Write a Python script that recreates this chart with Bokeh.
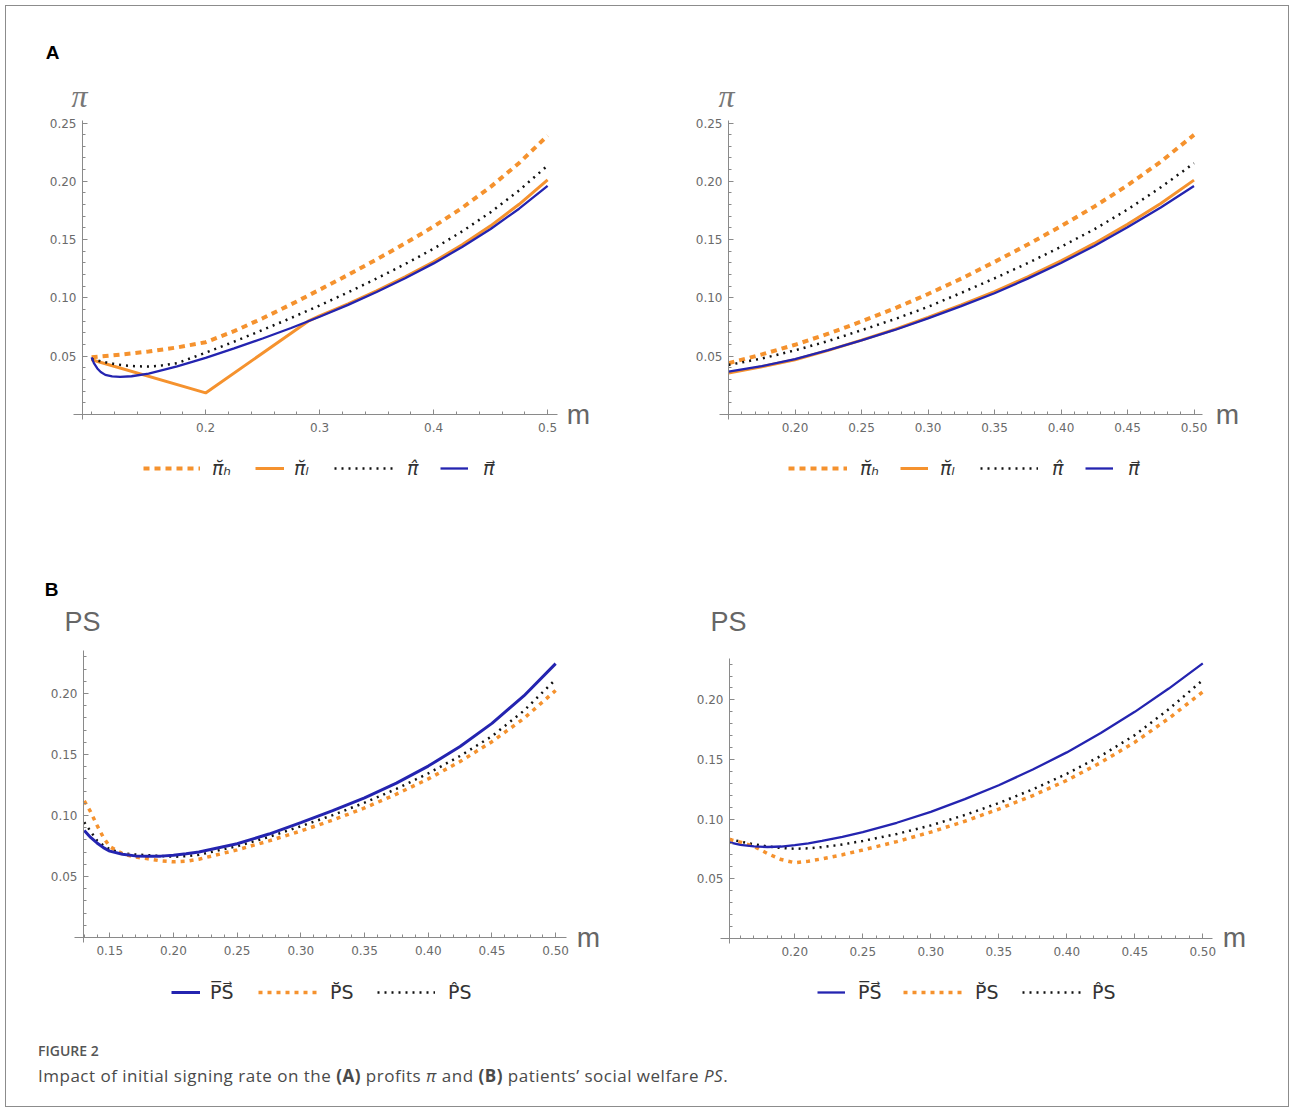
from bokeh.plotting import figure
from bokeh.models import Range1d, FixedTicker, PrintfTickFormatter, Label, Legend, LegendItem, Div
from bokeh.layouts import row, column
from bokeh.embed import file_html
from bokeh.resources import INLINE

# ---------------- DATA ----------------
# Panel A, left
tl_m_h = [0.10, 0.125, 0.15, 0.175, 0.20, 0.225, 0.25, 0.275, 0.30, 0.325, 0.35, 0.375, 0.40, 0.425, 0.45, 0.475, 0.50]
tl_pi_h = [0.049, 0.0513, 0.054, 0.0575, 0.062, 0.0715, 0.0825, 0.0945, 0.107, 0.1198, 0.133, 0.1468, 0.1612, 0.1772, 0.1952, 0.2157, 0.2392]
tl_m_l = [0.10, 0.20, 0.29, 0.30, 0.325, 0.35, 0.375, 0.40, 0.425, 0.45, 0.475, 0.50]
tl_pi_l = [0.047, 0.0185, 0.080, 0.0845, 0.0948, 0.106, 0.118, 0.131, 0.1455, 0.1618, 0.1803, 0.2013]
tl_m_hat = [0.10, 0.11, 0.12, 0.13, 0.14, 0.15, 0.16, 0.175, 0.20, 0.225, 0.25, 0.275, 0.30, 0.325, 0.35, 0.375, 0.40, 0.425, 0.45, 0.475, 0.50]
tl_pi_hat = [0.0475, 0.0452, 0.0433, 0.042, 0.0413, 0.0412, 0.0418, 0.044, 0.053, 0.0625, 0.0725, 0.0828, 0.0935, 0.1048, 0.1166, 0.129, 0.1422, 0.157, 0.1735, 0.1922, 0.2135]
tl_m_vec = [0.10, 0.102, 0.105, 0.108, 0.112, 0.118, 0.125, 0.135, 0.15, 0.175, 0.20, 0.225, 0.25, 0.275, 0.30, 0.325, 0.35, 0.375, 0.40, 0.425, 0.45, 0.475, 0.50]
tl_pi_vec = [0.049, 0.044, 0.0395, 0.0365, 0.034, 0.0327, 0.0323, 0.0328, 0.035, 0.0412, 0.0485, 0.0567, 0.0652, 0.0742, 0.0838, 0.094, 0.105, 0.1168, 0.1296, 0.1436, 0.1591, 0.1765, 0.196]

# Panel A, right
tr_m = [0.15, 0.175, 0.20, 0.225, 0.25, 0.275, 0.30, 0.325, 0.35, 0.375, 0.40, 0.425, 0.45, 0.475, 0.50]
tr_pi_h = [0.044, 0.0515, 0.0598, 0.0693, 0.0798, 0.091, 0.1033, 0.1165, 0.1308, 0.1458, 0.1615, 0.1783, 0.1965, 0.2168, 0.2398]
tr_pi_l = [0.0355, 0.041, 0.047, 0.055, 0.0638, 0.073, 0.0832, 0.094, 0.1053, 0.118, 0.1317, 0.1467, 0.1632, 0.181, 0.201]
tr_pi_hat = [0.0425, 0.048, 0.055, 0.063, 0.0723, 0.0818, 0.0923, 0.1043, 0.1168, 0.1298, 0.1438, 0.1588, 0.1758, 0.1948, 0.2155]
tr_pi_vec = [0.0367, 0.0415, 0.0475, 0.0552, 0.0635, 0.0725, 0.0825, 0.093, 0.104, 0.1165, 0.130, 0.1445, 0.1605, 0.1775, 0.196]

# Panel B, left
bl_m = [0.13, 0.135, 0.14, 0.145, 0.15, 0.16, 0.17, 0.18, 0.19, 0.20, 0.21, 0.22, 0.25, 0.275, 0.30, 0.325, 0.35, 0.375, 0.40, 0.425, 0.45, 0.475, 0.50]
bl_ps_vec = [0.0877, 0.082, 0.0775, 0.0737, 0.0708, 0.0682, 0.0669, 0.0665, 0.0667, 0.0674, 0.0686, 0.0701, 0.0768, 0.0848, 0.0942, 0.104, 0.1145, 0.1265, 0.1405, 0.1565, 0.1755, 0.198, 0.2245]
bl_ps_br = [0.112, 0.103, 0.092, 0.082, 0.0745, 0.0685, 0.066, 0.0645, 0.0628, 0.062, 0.0625, 0.0642, 0.0718, 0.0792, 0.0873, 0.0962, 0.1062, 0.1175, 0.130, 0.1442, 0.1605, 0.1795, 0.2025]
bl_ps_hat = [0.0945, 0.087, 0.0795, 0.0755, 0.0725, 0.069, 0.068, 0.0675, 0.0668, 0.0662, 0.0666, 0.0678, 0.0748, 0.0825, 0.0912, 0.1003, 0.1105, 0.1218, 0.1345, 0.1488, 0.165, 0.1858, 0.2115]

# Panel B, right
br_m = [0.152, 0.16, 0.17, 0.18, 0.19, 0.20, 0.21, 0.22, 0.235, 0.25, 0.275, 0.30, 0.325, 0.35, 0.375, 0.40, 0.425, 0.45, 0.475, 0.50]
br_ps_vec = [0.0805, 0.0785, 0.0772, 0.0767, 0.0771, 0.0782, 0.0798, 0.0818, 0.0852, 0.0892, 0.097, 0.1062, 0.1168, 0.1285, 0.1416, 0.156, 0.1722, 0.19, 0.2095, 0.2306]
br_ps_br = [0.083, 0.0808, 0.0772, 0.0712, 0.0662, 0.0635, 0.0648, 0.0668, 0.0702, 0.0742, 0.0812, 0.0892, 0.0983, 0.1085, 0.1198, 0.1325, 0.1475, 0.1645, 0.1845, 0.2067]
br_ps_hat = [0.0835, 0.0812, 0.079, 0.0772, 0.0758, 0.0752, 0.0756, 0.0766, 0.0788, 0.0818, 0.0876, 0.0948, 0.1035, 0.1135, 0.125, 0.138, 0.153, 0.1705, 0.1922, 0.2166]

# ticks
tl_xticks = [0.2, 0.3, 0.4, 0.5]
tl_xminor = [round(0.10 + 0.02 * i, 2) for i in range(21)]
a_yticks = [0.05, 0.10, 0.15, 0.20, 0.25]
a_yminor = [round(0.01 * i, 2) for i in range(1, 26)]
tr_xticks = [0.20, 0.25, 0.30, 0.35, 0.40, 0.45, 0.50]
tr_xminor = [round(0.01 * i, 2) for i in range(15, 51)]
bl_xticks = [0.15, 0.20, 0.25, 0.30, 0.35, 0.40, 0.45, 0.50]
bl_xminor = [round(0.01 * i, 2) for i in range(13, 51)]
br_xticks = [0.20, 0.25, 0.30, 0.35, 0.40, 0.45, 0.50]
br_xminor = [round(0.01 * i, 2) for i in range(16, 51)]
b_yticks = [0.05, 0.10, 0.15, 0.20]
b_yminor = [round(0.01 * i, 2) for i in range(1, 24)]

pi_labels = ["\u03c0\u0306\u2095", "\u03c0\u0306\u2097", "\u03c0\u0302", "\u03c0\u20d7"]
ps_labels = ["P\u0305S\u20d7", "P\u0306S", "P\u0302S"]

ORANGE = "#F5922E"
BLUE = "#2424B0"
BLACK = "#111111"
AXC = "#8a8a8a"
TXC = "#6a6a6a"


def panel(g, xticks, xminor, xfmt, yticks, yminor):
    # the frame covers the whole canvas; axes are placed at the data origin
    xr = Range1d(g["x0"] - (g["fl"] - g["ox"]) / g["kx"], g["x0"] + (g["ox"] + g["W"] - g["fl"]) / g["kx"])
    yr = Range1d(-(g["oy"] + g["H"] - g["fb"]) / g["ky"], (g["fb"] - g["oy"]) / g["ky"])
    p = figure(width=g["W"], height=g["H"], x_range=xr, y_range=yr,
               output_backend="svg", toolbar_location=None,
               min_border=0, min_border_left=0, min_border_right=0,
               min_border_top=0, min_border_bottom=0)
    p.xgrid.visible = False
    p.ygrid.visible = False
    p.outline_line_color = None
    p.border_fill_color = "white"
    p.background_fill_color = "white"
    p.xaxis.ticker = FixedTicker(ticks=xticks, minor_ticks=xminor)
    p.yaxis.ticker = FixedTicker(ticks=yticks, minor_ticks=yminor)
    p.xaxis.formatter = PrintfTickFormatter(format=xfmt)
    p.yaxis.formatter = PrintfTickFormatter(format="%.2f")
    p.xaxis.fixed_location = 0
    p.yaxis.fixed_location = g["x0"]
    p.xaxis.bounds = (g["x0"] - 9 / g["kx"], g["xe"])
    p.yaxis.bounds = (-5 / g["ky"], g["ye"])
    for ax in (p.xaxis[0], p.yaxis[0]):
        ax.axis_line_color = AXC
        ax.major_tick_line_color = AXC
        ax.minor_tick_line_color = AXC
        ax.major_tick_in = 5
        ax.major_tick_out = 0
        ax.minor_tick_in = 3
        ax.minor_tick_out = 0
        ax.major_label_text_color = TXC
        ax.major_label_text_font = "DejaVu Sans"
        ax.major_label_text_font_size = "12px"
    p.xaxis.major_label_standoff = 8
    p.yaxis.major_label_standoff = 6
    return p


def put_text(p, g, px, py, text, size, font="Liberation Sans", style="normal", color=TXC):
    x = g["x0"] + (px - g["fl"]) / g["kx"]
    y = (g["fb"] - py) / g["ky"]
    p.add_layout(Label(x=x, y=y, text=text, text_align="center", text_baseline="middle",
                       text_font=font, text_font_size=size, text_font_style=style, text_color=color))


def key(p, g, r, label, gx, gw, lx, cy, size, font, style):
    H = 24
    leg = Legend(items=[LegendItem(label=label, renderers=[r])],
                 location=(int(gx - g["ox"]), int(g["oy"] + g["H"] - cy - H / 2)),
                 glyph_width=gw, glyph_height=H, label_height=H,
                 label_standoff=int(lx - gx - gw), padding=0, margin=0, spacing=0,
                 border_line_color=None, background_fill_alpha=0,
                 label_text_font=font, label_text_font_size=size,
                 label_text_font_style=style, label_text_color="#333333")
    p.add_layout(leg)


# ---------------- Panel A left ----------------
g1 = dict(ox=6, oy=6, W=639, H=524, fl=82, fb=414, x0=0.092, kx=1140, ky=1166, xe=0.5087, ye=0.2521)
p1 = panel(g1, tl_xticks, tl_xminor, "%.1f", a_yticks, a_yminor)
r1h = p1.line(tl_m_h, tl_pi_h, line_color=ORANGE, line_width=4, line_dash="6 5")
r1l = p1.line(tl_m_l, tl_pi_l, line_color=ORANGE, line_width=3)
r1hat = p1.line(tl_m_hat, tl_pi_hat, line_color=BLACK, line_width=2.5, line_dash="2 5")
r1v = p1.line(tl_m_vec, tl_pi_vec, line_color=BLUE, line_width=2.3)
put_text(p1, g1, 52, 52, "A", "19px", style="bold", color="#000000")
put_text(p1, g1, 79, 95, "\u03c0", "32px", font="Liberation Serif", style="italic", color="#777777")
put_text(p1, g1, 578, 414, "m", "28px", color="#666666")
key(p1, g1, r1h, pi_labels[0], 143, 57, 212, 468, "19px", "DejaVu Sans", "italic")
key(p1, g1, r1l, pi_labels[1], 255, 29, 294, 468, "19px", "DejaVu Sans", "italic")
key(p1, g1, r1hat, pi_labels[2], 334, 61, 407, 468, "19px", "DejaVu Sans", "italic")
key(p1, g1, r1v, pi_labels[3], 440, 28, 483, 468, "19px", "DejaVu Sans", "italic")

# ---------------- Panel A right ----------------
g2 = dict(ox=645, oy=6, W=643, H=524, fl=728, fb=414, x0=0.15, kx=1330, ky=1166, xe=0.5064, ye=0.2521)
p2 = panel(g2, tr_xticks, tr_xminor, "%.2f", a_yticks, a_yminor)
r2h = p2.line(tr_m, tr_pi_h, line_color=ORANGE, line_width=4, line_dash="6 5")
r2l = p2.line(tr_m, tr_pi_l, line_color=ORANGE, line_width=3)
r2hat = p2.line(tr_m, tr_pi_hat, line_color=BLACK, line_width=2.5, line_dash="2 5")
r2v = p2.line(tr_m, tr_pi_vec, line_color=BLUE, line_width=2.3)
put_text(p2, g2, 726, 95, "\u03c0", "32px", font="Liberation Serif", style="italic", color="#777777")
put_text(p2, g2, 1227, 414, "m", "28px", color="#666666")
key(p2, g2, r2h, pi_labels[0], 788, 59, 860, 468, "19px", "DejaVu Sans", "italic")
key(p2, g2, r2l, pi_labels[1], 900, 28, 940, 468, "19px", "DejaVu Sans", "italic")
key(p2, g2, r2hat, pi_labels[2], 980, 58, 1052, 468, "19px", "DejaVu Sans", "italic")
key(p2, g2, r2v, pi_labels[3], 1085, 28, 1128, 468, "19px", "DejaVu Sans", "italic")

# ---------------- Panel B left ----------------
g3 = dict(ox=6, oy=530, W=639, H=500, fl=83, fb=937, x0=0.1294, kx=1274, ky=1220, xe=0.5085, ye=0.2352)
p3 = panel(g3, bl_xticks, bl_xminor, "%.2f", b_yticks, b_yminor)
r3h = p3.line(bl_m, bl_ps_hat, line_color=BLACK, line_width=2.5, line_dash="2 5")
r3b = p3.line(bl_m, bl_ps_br, line_color=ORANGE, line_width=3.5, line_dash="4 5")
r3v = p3.line(bl_m, bl_ps_vec, line_color=BLUE, line_width=3)
put_text(p3, g3, 51, 589, "B", "19px", style="bold", color="#000000")
put_text(p3, g3, 82, 621, "PS", "27px", color="#666666")
put_text(p3, g3, 588, 937, "m", "28px", color="#666666")
key(p3, g3, r3v, ps_labels[0], 171, 29, 210, 992, "19px", "DejaVu Sans", "normal")
key(p3, g3, r3b, ps_labels[1], 258, 59, 330, 992, "19px", "DejaVu Sans", "normal")
key(p3, g3, r3h, ps_labels[2], 377, 58, 448, 992, "19px", "DejaVu Sans", "normal")

# ---------------- Panel B right ----------------
g4 = dict(ox=645, oy=530, W=643, H=500, fl=729, fb=938, x0=0.152, kx=1360, ky=1193, xe=0.5071, ye=0.2347)
p4 = panel(g4, br_xticks, br_xminor, "%.2f", b_yticks, b_yminor)
r4h = p4.line(br_m, br_ps_hat, line_color=BLACK, line_width=2.5, line_dash="2 5")
r4b = p4.line(br_m, br_ps_br, line_color=ORANGE, line_width=3.5, line_dash="4 5")
r4v = p4.line(br_m, br_ps_vec, line_color=BLUE, line_width=2.3)
put_text(p4, g4, 728, 621, "PS", "27px", color="#666666")
put_text(p4, g4, 1234, 937, "m", "28px", color="#666666")
key(p4, g4, r4v, ps_labels[0], 817, 28, 858, 992, "19px", "DejaVu Sans", "normal")
key(p4, g4, r4b, ps_labels[1], 903, 60, 975, 992, "19px", "DejaVu Sans", "normal")
key(p4, g4, r4h, ps_labels[2], 1022, 63, 1092, 992, "19px", "DejaVu Sans", "normal")

caption = Div(
    text=('<div style="font-family:\'Open Sans\',sans-serif;color:#555555;padding-left:27px;">'
          '<div style="font-size:14px;font-weight:600;margin-top:7px;line-height:17px;">FIGURE 2</div>'
          '<div style="font-size:17px;letter-spacing:0.5px;margin-top:6px;line-height:21px;color:#4a4a4a;">'
          'Impact of initial signing rate on the '
          '<b>(A)</b> profits <i>\u03c0</i> and <b>(B)</b> patients\u2019 social welfare <i>PS</i>.</div></div>'),
    width=1282, height=76)

layout = column(row(p1, p2, spacing=0), row(p3, p4, spacing=0), caption, spacing=0,
                width=1284, height=1102,
                styles={"border": "1px solid #8c8c8c", "margin-left": "5px", "margin-top": "5px"})

open("out.html", "w").write(file_html(layout, INLINE))
